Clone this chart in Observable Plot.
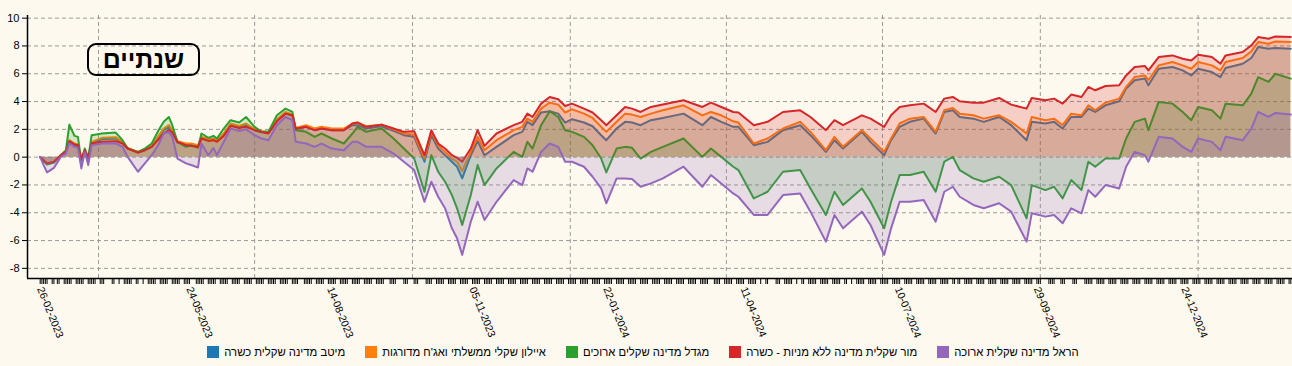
<!DOCTYPE html>
<html>
<head>
<meta charset="utf-8">
<script src="https://cdn.jsdelivr.net/npm/d3@7"></script>
<script src="https://cdn.jsdelivr.net/npm/@observablehq/plot@0.6"></script>
<style>
  html, body { margin: 0; padding: 0; background: #fdf9ee; }
  body { font-family: "Liberation Sans", Arial, sans-serif; color: #000; }
  #wrap { position: relative; width: 1292px; height: 366px; overflow: hidden; }
  #title {
    position: absolute; left: 87px; top: 43px; width: 109px; height: 29px;
    border: 2.5px solid #000; border-radius: 9px;
    font: bold 25px "Liberation Sans", Arial, sans-serif;
    display: flex; align-items: center; justify-content: center; line-height: 1;
  }
  #legend { display: flex; justify-content: center; gap: 20px; font-size: 11.3px; height: 28px; align-items: center; padding-right: 6px; }
  .item { display: flex; align-items: center; gap: 5px; white-space: nowrap; }
  .sw { width: 12px; height: 12px; display: inline-block; }
</style>
</head>
<body>
<div id="wrap">
  <div id="chart"></div>
  <div id="legend"></div>
  <div id="title" dir="rtl">שנתיים</div>
</div>
<script>
// ---------------- DATA ----------------
const startDay = "2023-02-26";           // first trading day shown
// sample positions, in days after startDay
const dayOffsets = [0,2,4,8,12,15,17,20,22,24,26,28,30,36,44,48,51,57,61,65,69,72,75,77,80,85,88,92,94,98,101,103,107,111,116,120,125,129,133,138,143,147,149,155,160,164,170,177,182,185,190,199,206,212,218,224,228,232,236,240,243,246,251,255,259,266,276,281,284,287,292,297,302,306,310,317,322,327,330,336,341,345,350,356,363,375,386,391,397,404,407,416,424,433,443,449,458,463,468,479,484,492,496,501,507,515,522,527,532,536,544,550,559,566,575,578,586,591,596,601,607,611,615,621,629,633,638,644,646,652,660,666,671,675,683,688,691,701,706,710,716,720,729];

const seriesNames = ["מיטב מדינה שקלית כשרה", "איילון שקלי ממשלתי ואג'ח מדורגות", "מגדל מדינה שקלים ארוכים", "מור שקלית מדינה ללא מניות - כשרה", "הראל מדינה שקלית ארוכה"];
const seriesColors = ["#1f77b4", "#ff7f0e", "#2ca02c", "#d62728", "#9467bd"];

const meitav = [0,-0.26,-0.50,-0.38,0.12,0.36,1.10,0.86,0.81,-0.19,0.48,-0.14,1.03,1.29,1.34,1.03,0.62,0.33,0.50,0.74,1.41,1.94,2.18,1.82,1.05,0.91,0.91,0.79,1.39,1.22,1.29,1.15,1.63,2.34,2.18,2.34,1.94,1.79,1.75,2.63,3.16,3.01,2.01,2.18,1.94,2.06,1.94,1.94,2.30,2.30,2.06,2.22,1.89,1.58,1.46,-0.33,1.58,0.62,0.14,-0.33,-0.69,-1.53,0.14,1.15,0.14,0.74,1.58,1.82,2.54,2.30,3.21,3.30,3.13,2.49,2.73,2.49,2.22,1.58,1.22,2.06,2.54,2.49,2.30,2.66,2.82,3.13,2.30,2.89,2.54,2.18,2.18,0.86,1.10,1.94,2.30,1.58,0.38,1.22,0.62,1.82,1.10,0.14,1.22,2.18,2.54,2.77,1.70,3.25,3.37,2.89,2.77,2.54,2.89,2.30,1.22,2.54,2.42,2.54,2.06,2.89,2.89,3.49,3.25,3.73,4.02,4.93,5.53,5.65,5.17,6.36,6.48,6.24,5.88,6.36,6.12,5.76,6.41,6.72,7.13,7.92,7.80,7.85,7.80];
const ayalon = [0,-0.22,-0.45,-0.33,0.14,0.38,1.22,0.98,0.91,-0.14,0.50,-0.10,1.10,1.39,1.44,1.10,0.67,0.38,0.55,0.81,1.53,2.06,2.30,1.94,1.15,0.98,0.98,0.86,1.46,1.29,1.34,1.22,1.70,2.42,2.25,2.42,2.01,1.87,1.82,2.73,3.25,3.06,2.10,2.30,2.06,2.18,2.06,2.06,2.42,2.49,2.22,2.34,2.01,1.70,1.63,-0.10,1.82,0.86,0.38,-0.10,-0.33,-1.00,0.38,1.46,0.50,1.22,1.94,2.18,2.77,2.54,3.49,3.92,3.78,3.21,3.44,3.13,2.82,2.18,1.82,2.54,3.13,3.06,2.89,3.13,3.37,3.73,3.01,3.25,3.01,2.58,2.49,0.98,1.34,2.06,2.54,1.82,0.50,1.46,0.74,1.94,1.34,0.38,1.34,2.42,2.77,2.89,1.82,3.37,3.54,3.13,3.01,2.77,3.01,2.54,1.70,2.89,2.66,2.77,2.30,3.13,3.01,3.73,3.37,3.92,4.21,5.05,5.76,5.88,5.53,6.60,6.84,6.60,6.36,6.84,6.60,6.24,6.84,7.13,7.61,8.28,8.16,8.32,8.28];
const migdal = [0,-0.29,-0.53,-0.38,0.14,0.50,2.34,1.53,1.46,-0.33,0.62,-0.05,1.58,1.70,1.77,1.22,0.62,0.38,0.62,0.98,1.94,2.54,2.89,2.30,1.10,0.74,0.86,0.67,1.70,1.39,1.53,1.34,2.06,2.66,2.49,2.89,2.18,1.82,1.82,3.01,3.49,3.25,1.94,1.82,1.46,1.70,1.34,0.98,1.70,2.18,1.82,2.06,1.34,0.62,-0.10,-2.49,0.14,-1.05,-1.77,-2.73,-3.68,-4.88,-2.73,-0.57,-2.01,-0.81,0.38,0.02,1.10,0.62,2.30,3.30,2.89,1.94,1.82,1.46,0.86,-0.10,-1.10,0.62,0.74,0.67,-0.10,0.38,0.74,1.34,0.02,0.62,0.02,-0.69,-0.93,-2.97,-2.49,-1.05,-0.93,-2.25,-4.16,-2.49,-3.44,-2.25,-3.21,-5.12,-3.21,-1.29,-1.29,-1.05,-2.49,-0.33,0.02,-0.93,-1.53,-1.77,-1.41,-2.01,-4.40,-2.01,-2.37,-2.13,-2.97,-1.65,-2.37,-0.33,-0.69,-0.10,-0.10,1.34,2.54,2.77,1.94,3.97,3.85,3.25,2.66,3.61,3.37,2.77,3.85,3.73,4.57,5.76,5.41,6.00,5.65];
const mor = [0,-0.22,-0.45,-0.33,0.14,0.38,1.15,0.91,0.86,-0.14,0.50,-0.10,0.98,1.10,1.15,0.98,0.62,0.33,0.50,0.74,1.29,1.70,1.94,1.77,1.10,0.86,0.81,0.74,1.34,1.17,1.22,1.10,1.53,2.25,2.10,2.18,1.94,1.82,1.70,2.58,3.13,3.01,2.06,2.18,1.94,2.06,1.94,1.94,2.42,2.49,2.18,2.34,2.06,1.82,1.87,0.14,1.94,0.98,0.62,0.14,-0.05,-0.33,0.62,1.94,0.81,1.70,2.30,2.54,3.13,2.89,3.85,4.33,4.16,3.68,3.85,3.49,3.21,2.66,2.30,3.01,3.61,3.49,3.25,3.61,3.78,4.09,3.61,3.92,3.61,3.25,3.21,2.30,2.54,3.25,3.37,2.89,1.94,2.66,2.30,3.01,2.77,2.18,3.01,3.61,3.73,3.85,3.25,4.21,4.33,4.02,3.92,3.92,4.26,3.78,3.49,4.26,4.09,4.21,3.85,4.50,4.33,5.05,4.81,5.12,5.17,5.88,6.48,6.55,6.24,7.20,7.32,7.08,6.96,7.37,7.20,6.72,7.32,7.56,8.04,8.64,8.52,8.68,8.64];
const harel = [0,-0.57,-1.10,-0.77,0.02,0.26,0.98,0.74,0.67,-0.81,0.38,-0.57,0.86,0.98,1.00,0.74,0.02,-1.05,-0.45,0.14,0.91,1.70,1.82,1.46,-0.10,-0.45,-0.57,-0.74,0.98,0.14,0.67,0.14,1.10,2.06,1.87,2.01,1.58,1.34,1.22,2.30,2.89,2.66,1.10,0.98,0.74,0.98,0.62,0.50,1.10,1.10,0.74,0.74,0.26,-0.33,-0.93,-3.21,-1.77,-2.85,-3.68,-5.12,-5.84,-7.03,-4.64,-3.21,-4.52,-3.21,-1.65,-2.01,-0.81,-1.05,0.38,0.98,0.74,-0.33,-0.33,-0.69,-1.41,-2.25,-3.32,-1.53,-1.53,-1.58,-2.13,-1.89,-1.53,-0.69,-2.13,-1.29,-1.89,-2.61,-2.85,-4.16,-4.16,-2.73,-2.61,-3.92,-6.08,-4.16,-5.12,-3.92,-4.88,-7.03,-5.12,-3.21,-3.21,-3.09,-4.64,-2.49,-2.13,-2.85,-3.44,-3.68,-3.32,-3.92,-6.08,-4.04,-4.28,-4.16,-4.76,-3.68,-4.04,-2.37,-2.85,-2.01,-2.25,-0.69,0.38,0.14,-0.33,1.46,1.34,0.74,0.38,1.34,1.10,0.50,1.46,1.22,2.06,3.25,2.89,3.18,3.06];

const yTicks = [-8, -6, -4, -2, 0, 2, 4, 6, 8, 10];
const xTickLabels = ["2023-02-26", "2023-05-24", "2023-08-14", "2023-11-05", "2024-01-22", "2024-04-11", "2024-07-10", "2024-09-29", "2024-12-24"];
const marketHolidays = ["2023-03-07","2023-04-05","2023-04-06","2023-04-11","2023-04-12","2023-04-25","2023-04-26","2023-05-25","2023-07-27","2023-09-17","2023-09-24","2023-09-25","2023-10-01","2023-10-05","2023-10-08","2024-03-24","2024-04-22","2024-04-23","2024-04-28","2024-04-29","2024-05-13","2024-05-14","2024-06-11","2024-06-12","2024-08-13","2024-10-02","2024-10-03","2024-10-10","2024-10-16","2024-10-17","2024-10-23","2024-10-24"];

// ---------------- BUILD ----------------
const DAY = 864e5;
const t0 = new Date(startDay + "T00:00:00Z");
const at = d => new Date(t0.getTime() + d * DAY);
const xDomain = [at(-7.4), at(730)];
const yDomain = [-8.73, 10.19];

const valuesList = [meitav, ayalon, migdal, mor, harel];
const tables = valuesList.map((vals, i) => dayOffsets.map((d, j) => ({date: at(d), value: vals[j], series: seriesNames[i]})));

const fmtISO = d3.utcFormat("%Y-%m-%d");
const tradingDays = d3.utcDays(t0, at(730)).filter(d => d.getUTCDay() <= 4 && !marketHolidays.includes(fmtISO(d)));
const labelDates = xTickLabels.map(s => new Date(s + "T00:00:00Z"));
const quarterTicks = d3.utcMonth.every(3).range(xDomain[0], xDomain[1]);

const marks = [
  Plot.gridY(yTicks, {stroke: "#9a9a9a", strokeOpacity: 1, strokeDasharray: "4,3", strokeWidth: 1}),
  Plot.gridX(quarterTicks, {stroke: "#9a9a9a", strokeOpacity: 1, strokeDasharray: "4,3", strokeWidth: 1})
];
tables.forEach((tbl, i) => {
  marks.push(Plot.areaY(tbl, {x: "date", y: "value", fill: seriesColors[i], fillOpacity: 0.2}));
  marks.push(Plot.lineY(tbl, {x: "date", y: "value", stroke: seriesColors[i], strokeWidth: 2}));
});
marks.push(
  Plot.ruleX([xDomain[0]], {stroke: "#000", strokeWidth: 1.5}),
  Plot.ruleY([yDomain[0]], {stroke: "#000", strokeWidth: 1.5}),
  Plot.axisY(yTicks, {tickSize: 5, tickPadding: 3, tickFormat: d => String(d), fontSize: 11, label: null}),
  Plot.axisX(tradingDays, {tickSize: 6, tickFormat: () => "", label: null}),
  Plot.axisX(labelDates, {tickSize: 0, tickPadding: 9, tickRotate: 68, tickFormat: d3.utcFormat("%d-%m-%Y"), fontSize: 10.5, label: null})
);

const chart = Plot.plot({
  width: 1292,
  height: 338,
  marginLeft: 27,
  marginRight: 0,
  marginTop: 15,
  marginBottom: 60,
  style: {background: "transparent", fontFamily: "'Liberation Sans', Arial, sans-serif", overflow: "visible"},
  x: {type: "utc", domain: xDomain, label: null},
  y: {domain: yDomain, label: null},
  marks
});
document.getElementById("chart").appendChild(chart);

const legend = document.getElementById("legend");
seriesNames.forEach((name, i) => {
  const it = document.createElement("div");
  it.className = "item";
  const sw = document.createElement("span");
  sw.className = "sw";
  sw.style.background = seriesColors[i];
  const tx = document.createElement("span");
  tx.textContent = name;
  it.appendChild(sw); it.appendChild(tx);
  legend.appendChild(it);
});
</script>
</body>
</html>
